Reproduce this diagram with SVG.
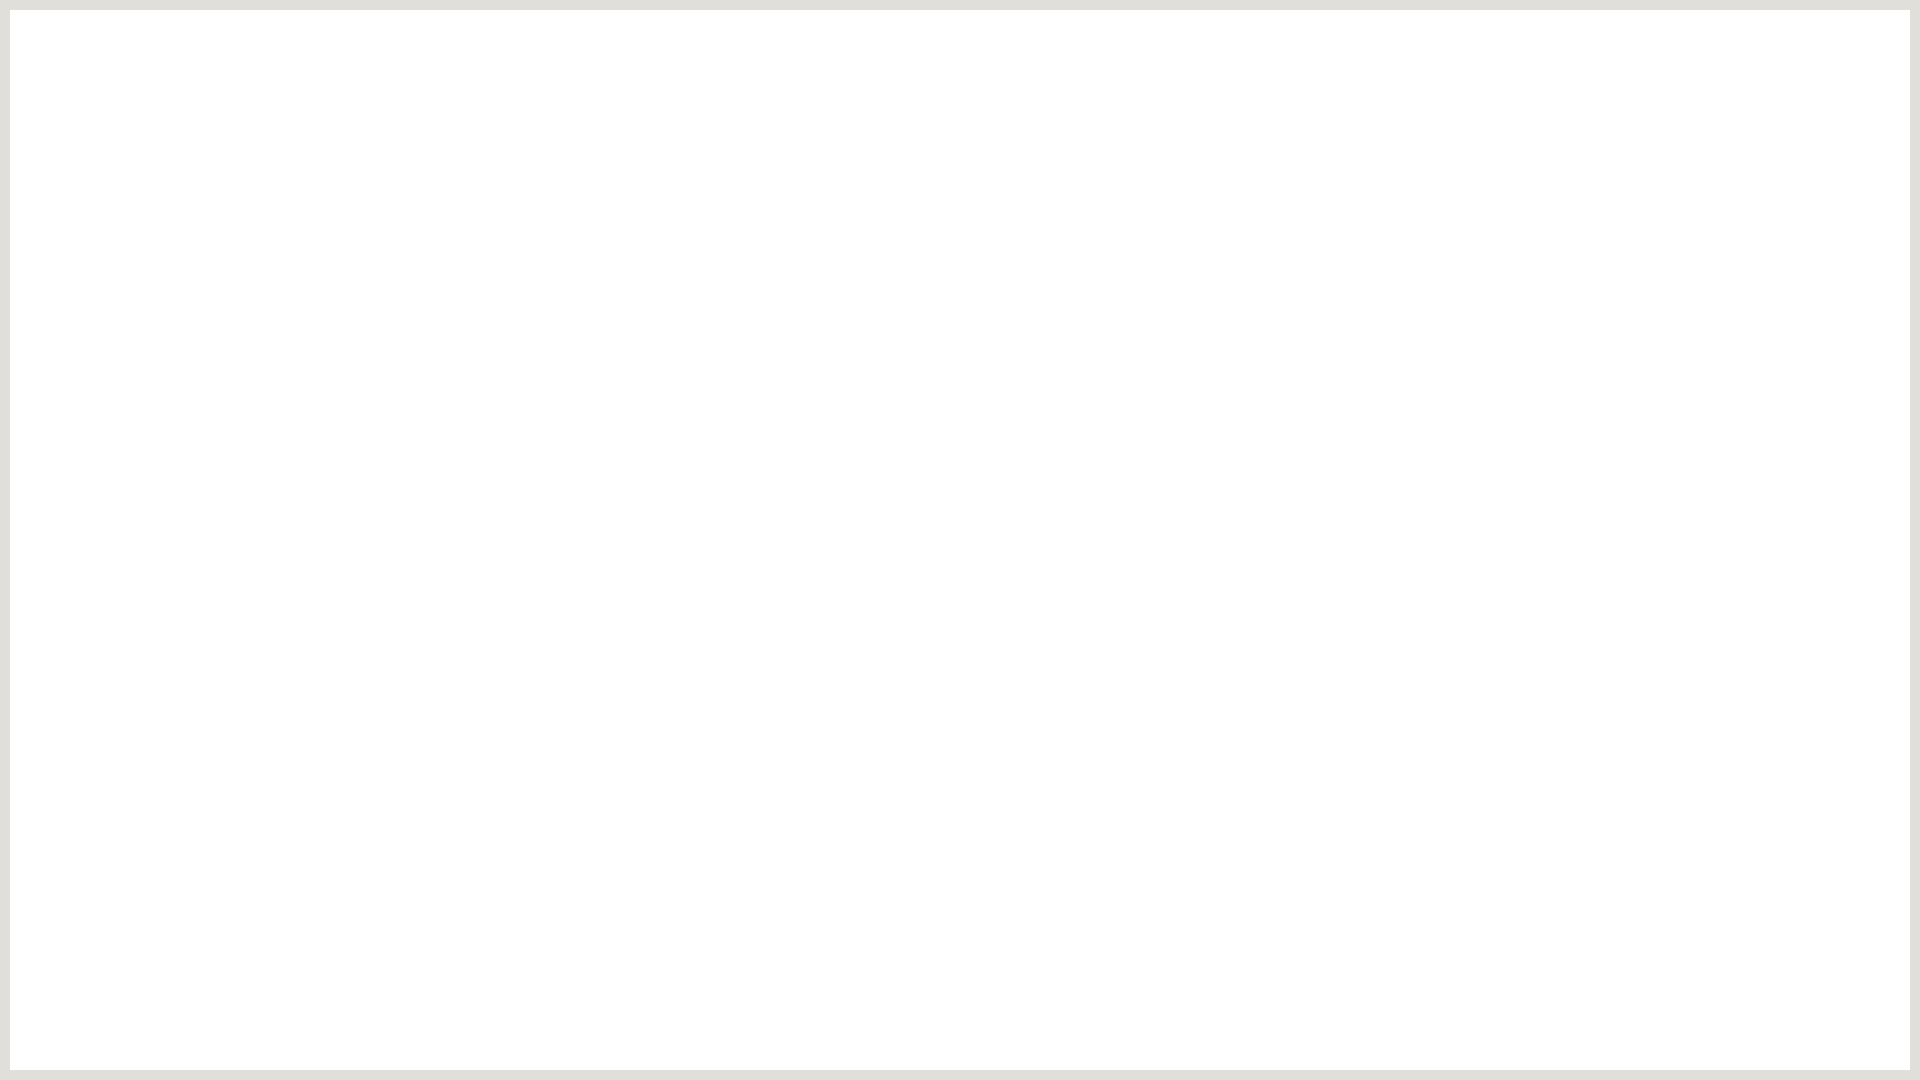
<svg xmlns="http://www.w3.org/2000/svg" width="1920" height="1080" viewBox="0 0 1920 1080">
  <style>
    .frame { fill: #E0DFDA; }
    .page { fill: #FFFFFF; }
  </style>
  <rect class="frame" x="0" y="0" width="1920" height="1080"/>
  <rect class="page" x="10" y="10" width="1900" height="1060"/>
</svg>
